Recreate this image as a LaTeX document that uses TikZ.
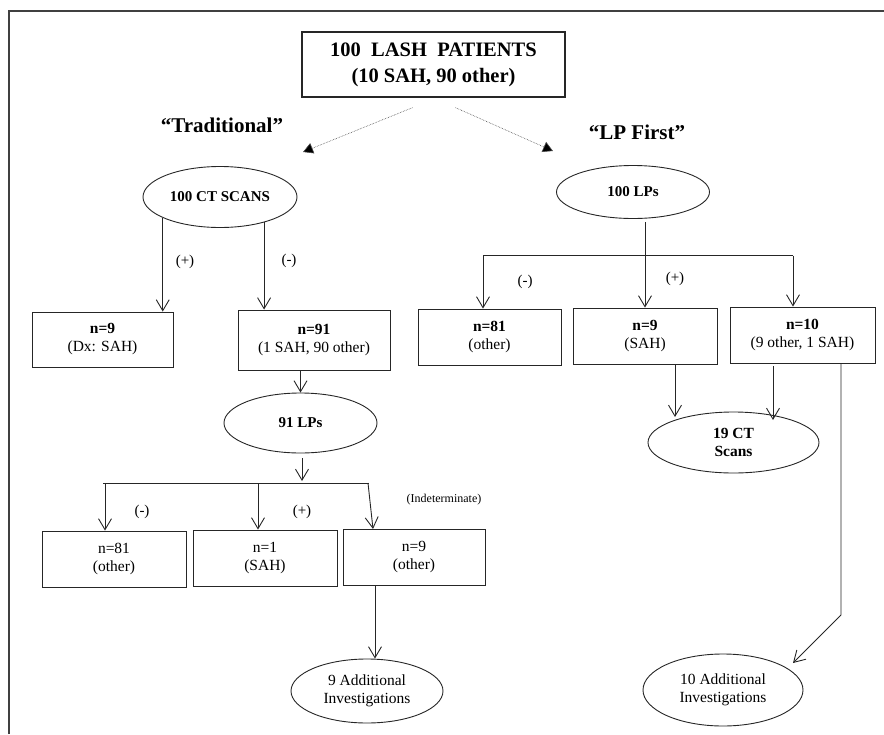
\documentclass[tikz,border=0pt]{standalone}
\usepackage{fontspec}
\setmainfont{Liberation Serif}
\usetikzlibrary{shapes.geometric,arrows.meta,calc}
\begin{document}
\begin{tikzpicture}[x=1pt,y=-1pt,
  line width=0.9pt, draw=black!85,
  box/.style={draw, rectangle, inner sep=0pt, align=center, font=\fontsize{15.5}{18}\selectfont},
  oval/.style={draw, ellipse, inner sep=0pt, align=center, font=\fontsize{15.5}{18}\selectfont},
  arr/.style={-{Straight Barb[length=11pt,width=13pt,line width=0.9pt]}},
  dotarr/.style={densely dotted, line width=0.6pt, draw=black!70, -{Triangle[length=10pt,width=11pt,fill=black]}},
  lbl/.style={font=\fontsize{15}{18}\selectfont, inner sep=0pt},
  head/.style={font=\bfseries\fontsize{21}{24}\selectfont, inner sep=0pt}
]
\useasboundingbox (0,0) rectangle (884,734);
% frame
\draw[line width=1.6pt, draw=black!75] (9,734) -- (9,11) -- (884,11);

% top box
\node[box, minimum width=263pt, minimum height=65pt, line width=1.3pt, font=\bfseries\fontsize{20.5}{26}\selectfont] (top) at (433.5,64.5) {100\ \ LASH\ \ PATIENTS\\(10 SAH, 90 other)};
\node[head] (trad) at (222,125) {“Traditional”};
\node[head] (lpf) at (637,132) {“LP First”};
\coordinate (tl) at (303,152);
\coordinate (tr) at (553,151);
\draw[dotarr] ($(top.south)+(-21,10)$) -- (tl);
\draw[dotarr] ($(top.south)+(22,10)$) -- (tr);

% left branch
\node[oval, minimum width=154pt, minimum height=61pt, font=\bfseries\fontsize{15}{18}\selectfont] (ct) at (220,197) {100 CT SCANS};
\node[box, minimum width=141pt, minimum height=55pt] (n9a) at (102.5,339.5) {\textbf{n=9}\\(Dx: SAH)};
\node[box, minimum width=152pt, minimum height=60pt] (n91) at (314,340) {\textbf{n=91}\\(1 SAH, 90 other)};
\draw[arr] (ct.200) -- (ct.200 |- n9a.north);
\draw[arr] (ct.330) -- (ct.330 |- n91.north);
\node[lbl] (lp1) at (185,262) {(+)};
\node[lbl] (lm1) at (289,261) {(-)};

\node[oval, minimum width=153pt, minimum height=60pt, font=\bfseries\fontsize{15}{18}\selectfont] (lp91) at (300.5,423) {91 LPs};
\draw[arr] (n91.south -| lp91.north) -- (lp91.north);

\coordinate (bl0) at (103,483);
\coordinate (bl1) at (105,483);
\coordinate (bl2) at (258,483);
\coordinate (bl3) at (368,483);
\coordinate (bl4) at (369,483);
\draw[arr] ($(lp91.south)+(1.5,5)$) -- ($(lp91.south |- bl0)+(1.5,-2)$);
\draw (bl0) -- (bl4);

\node[box, minimum width=144pt, minimum height=56pt] (n81a) at (114,559) {n=81\\(other)};
\node[box, minimum width=144pt, minimum height=56pt] (n1) at (265,558) {n=1\\(SAH)};
\node[box, minimum width=142pt, minimum height=56pt] (n9b) at (414,557) {n=9\\(other)};
\draw[arr] (bl1) -- (bl1 |- n81a.north);
\draw[arr] (bl2) -- (bl2 |- n1.north);
\coordinate (t3) at (373,529);
\draw[arr] (bl3) -- (t3);
\node[lbl] (lm2) at (142,512) {(-)};
\node[lbl] (lp2) at (302,512) {(+)};
\node[lbl, font=\fontsize{12}{14}\selectfont] (ind) at (444,500) {(Indeterminate)};

\node[oval, minimum width=152pt, minimum height=64pt] (add9) at (367,691) {9 Additional\\Investigations};
\coordinate (x9) at (375,0);
\draw[arr] (n9b.south -| x9) -- (add9.north -| x9);

% right branch
\node[oval, minimum width=153pt, minimum height=53pt, font=\bfseries\fontsize{15}{18}\selectfont] (lp100) at (633,192) {100 LPs};
\coordinate (br0) at (483,255.5);
\coordinate (br1) at (645,255.5);
\coordinate (br2) at (793,255.5);
\draw (br1 |- 0,222) -- (br1);
\draw (br0) -- (br2);

\node[box, minimum width=143pt, minimum height=56pt] (n81b) at (489.5,337) {\textbf{n=81}\\(other)};
\node[box, minimum width=144pt, minimum height=56pt] (n9c) at (645,336) {\textbf{n=9}\\(SAH)};
\node[box, minimum width=145pt, minimum height=56pt] (n10) at (802.5,335) {\textbf{n=10}\\(9 other, 1 SAH)};
\draw[arr] (br0) -- (br0 |- n81b.north);
\draw[arr] (br1) -- (br1 |- n9c.north);
\draw[arr] (br2) -- (br2 |- n10.north);
\node[lbl] (lm3) at (525,282) {(-)};
\node[lbl] (lp3) at (675,279) {(+)};

\node[oval, minimum width=171pt, minimum height=61pt, font=\bfseries\fontsize{15.5}{18}\selectfont] (ct19) at (733.5,442.5) {19 CT\\Scans};
\coordinate (x675) at (675,417);
\coordinate (x773) at (773,420);
\draw[arr] (n9c.south -| x675) -- (x675);
\draw[arr] ($(n10.south -| x773)+(0,3)$) -- (x773);

\node[oval, minimum width=160pt, minimum height=72pt] (add10) at (723,690) {10 Additional\\Investigations};
\coordinate (x841) at (841,615);
\coordinate (t10) at (793,663);
\draw[arr] (n10.south -| x841) -- (x841) -- (t10);
\end{tikzpicture}
\end{document}
